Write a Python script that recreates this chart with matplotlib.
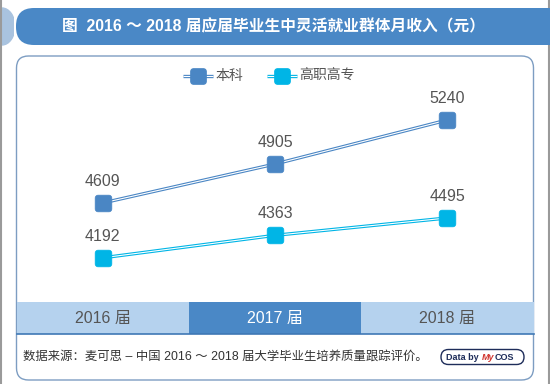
import matplotlib
matplotlib.use("Agg")
import matplotlib.pyplot as plt
from matplotlib.patches import FancyBboxPatch, Rectangle, Ellipse
from matplotlib.path import Path
import numpy as np

plt.rcParams['font.family'] = ['Liberation Sans', 'Noto Sans CJK SC', 'DejaVu Sans']

# ---- data ----
title = "图  2016 ～ 2018 届应届毕业生中灵活就业群体月收入（元）"
categories = ["2016 届", "2017 届", "2018 届"]
series_names = ["本科", "高职高专"]
benke = [4609, 4905, 5240]
gaozhi = [4192, 4363, 4495]
source_text = "数据来源：麦可思 – 中国 2016 ～ 2018 届大学毕业生培养质量跟踪评价。"

C_BENKE = "#4a86c4"
C_GAOZHI = "#00b5e6"
C_TITLE = "#4a88c6"
C_LIGHT = "#b5d2ee"
C_BORDER = "#7d9dc2"

W, H = 550, 384
fig = plt.figure(figsize=(W / 100, H / 100), dpi=100)
fig.patch.set_facecolor("white")

# background pixel axes
bg = fig.add_axes([0, 0, 1, 1])
bg.set_xlim(0, W)
bg.set_ylim(H, 0)
bg.axis("off")

# outer gray edges
bg.plot([1, 1], [0, H], color="#9a9a9a", lw=1.5)
bg.plot([548.5, 548.5], [0, H], color="#9a9a9a", lw=1.5)

# title bar
bg.add_patch(Ellipse((2, 26.5), 26, 37, color="#a9c3df", zorder=1))
bg.add_patch(Rectangle((14, 8), 30, 37, fc="white", ec="none", zorder=1.5))
bg.add_patch(FancyBboxPatch((16, 8), 560, 37, boxstyle="round,pad=0,rounding_size=18",
                            fc=C_TITLE, ec="none", zorder=2))
bg.text(273, 27, title, color="white", fontsize=11.3, fontweight="bold",
        ha="center", va="center", zorder=3)

# inner box
bg.add_patch(FancyBboxPatch((16.5, 56), 517, 324, boxstyle="round,pad=0,rounding_size=12",
                            fc="white", ec=C_BORDER, lw=1.0, zorder=1))

# category band
x0, x1 = 16.5, 533.5
cw = (x1 - x0) / len(categories)
for i, cat in enumerate(categories):
    mid = (i == 1)
    bg.add_patch(Rectangle((x0 + i * cw, 302), cw, 32, fc=C_TITLE if mid else C_LIGHT,
                           ec="none", zorder=2))
    bg.text(x0 + (i + 0.5) * cw, 318.5, cat, ha="center", va="center", fontsize=11.5,
            color="white" if mid else "#555555", zorder=3)
bg.plot([x0, x1], [334, 334], color="#3f78b5", lw=1.2, zorder=3)

# source
bg.text(23, 357, source_text, fontsize=8.9, color="#333333", ha="left", va="center", zorder=3)
bg.add_patch(FancyBboxPatch((441, 349.5), 83, 15, boxstyle="round,pad=0,rounding_size=7.5",
                            fc="white", ec="#1e2d5a", lw=1.0, zorder=3))
bg.text(446, 357.3, "Data by", fontsize=6.5, color="#1e2d5a", fontweight="bold",
        ha="left", va="center", zorder=4)
bg.text(482, 357.3, "My", fontsize=6.5, color="#d0332c", fontweight="bold", style="italic",
        ha="left", va="center", zorder=4)
bg.text(495, 357.3, "COS", fontsize=6.5, color="#1e2d5a", fontweight="bold",
        ha="left", va="center", zorder=4)

# rounded square marker
def rounded_square(r=0.35):
    k = 0.5523 * r
    verts = [(-1 + r, -1), (1 - r, -1),
             (1 - r + k, -1), (1, -1 + r - k), (1, -1 + r),
             (1, 1 - r),
             (1, 1 - r + k), (1 - r + k, 1), (1 - r, 1),
             (-1 + r, 1),
             (-1 + r - k, 1), (-1, 1 - r + k), (-1, 1 - r),
             (-1, -1 + r),
             (-1, -1 + r - k), (-1 + r - k, -1), (-1 + r, -1),
             (-1 + r, -1)]
    codes = [Path.MOVETO, Path.LINETO,
             Path.CURVE4, Path.CURVE4, Path.CURVE4,
             Path.LINETO,
             Path.CURVE4, Path.CURVE4, Path.CURVE4,
             Path.LINETO,
             Path.CURVE4, Path.CURVE4, Path.CURVE4,
             Path.LINETO,
             Path.CURVE4, Path.CURVE4, Path.CURVE4,
             Path.CLOSEPOLY]
    return Path(verts, codes)

RSQ = rounded_square()

# data axes
top_px, bot_px = 60, 302
ax = fig.add_axes([x0 / W, (H - bot_px) / H, (x1 - x0) / W, (bot_px - top_px) / H])
ax.set_xlim(-0.5, len(categories) - 0.5)
ax.set_ylim(3856, 5696)
ax.axis("off")
ax.patch.set_alpha(0)

xs = np.arange(len(categories))
for vals, col in [(benke, C_BENKE), (gaozhi, C_GAOZHI)]:
    ax.plot(xs, vals, color=col, lw=2.4, zorder=2, solid_capstyle="butt")
    ax.plot(xs, vals, color="white", lw=0.8, zorder=3, solid_capstyle="butt")
    ax.plot(xs, vals, ls="none", marker=RSQ, ms=12, mfc=col, mec=col, mew=0.5, zorder=4)
    for x, v in zip(xs, vals):
        ax.annotate(f"{v}", (x, v), xytext=(0, 10), textcoords="offset points",
                    ha="center", va="bottom", fontsize=11.5, color="#555555", zorder=5)

# legend (manual, pixel coords)
leg_items = [(series_names[0], C_BENKE, 198), (series_names[1], C_GAOZHI, 282)]
for name, col, mx in leg_items:
    bg.plot([mx - 15, mx + 15], [76, 76], color=col, lw=2.4, zorder=3, solid_capstyle="butt")
    bg.plot([mx - 15, mx + 15], [76, 76], color="white", lw=0.8, zorder=3.5, solid_capstyle="butt")
    bg.plot([mx], [76], ls="none", marker=RSQ, ms=11, mfc=col, mec=col, zorder=4)
    bg.text(mx + 17, 76, name, fontsize=10, color="#555555", ha="left", va="center", zorder=4)

fig.savefig("out.png", dpi=100)
